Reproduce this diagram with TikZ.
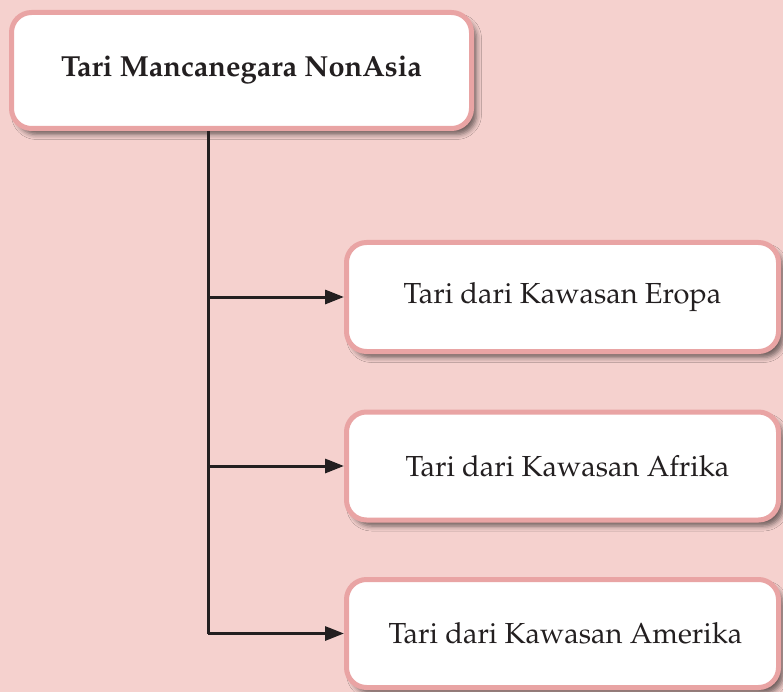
\documentclass[tikz,border=0pt]{standalone}
\usepackage[T1]{fontenc}
\usepackage{mathpazo}
\usepackage{tikz}
\usetikzlibrary{arrows.meta,shadows.blur,positioning}
\definecolor{bgpink}{HTML}{F5D1CE}
\definecolor{rimpink}{HTML}{E9A4A4}
\definecolor{inkgray}{HTML}{231F20}
\begin{document}
\begin{tikzpicture}[x=1pt,y=-1pt,
    box/.style={draw=rimpink,line width=5pt,fill=white,rounded corners=20pt,inner sep=0pt,
      text=inkgray,font=\fontsize{29}{32}\selectfont,
      blur shadow={shadow xshift=5pt,shadow yshift=-6pt,shadow blur radius=5pt,shadow opacity=55}},
    link/.style={line width=3pt,draw=inkgray},
    tip/.style={-{Triangle[length=19pt,width=14pt]}}]
    \fill[bgpink] (0,0) rectangle (783,692);
    \useasboundingbox (0,0) rectangle (783,692);

    \node[box,minimum width=460pt,minimum height=116pt,font=\fontsize{29}{32}\selectfont\bfseries] (root) at (241.5,70.5) {Tari Mancanegara NonAsia};
    \node[box,minimum width=432pt,minimum height=109pt] (eropa) at (562.5,297) {Tari dari Kawasan Eropa};
    \node[box,minimum width=432pt,minimum height=108pt] (afrika) at (562.5,466) {\hspace{10pt}Tari dari Kawasan Afrika};
    \node[box,minimum width=432pt,minimum height=108pt] (amerika) at (562.5,633.5) {\hspace{6pt}Tari dari Kawasan Amerika};

    \coordinate (trunk) at (208,0);
    \draw[link] (root.south -| trunk) -- (amerika.west -| trunk);
    \foreach \leaf in {eropa,afrika,amerika}
    {
        \draw[link,tip] (\leaf.west -| trunk) -- (\leaf.west);
    }
\end{tikzpicture}
\end{document}
